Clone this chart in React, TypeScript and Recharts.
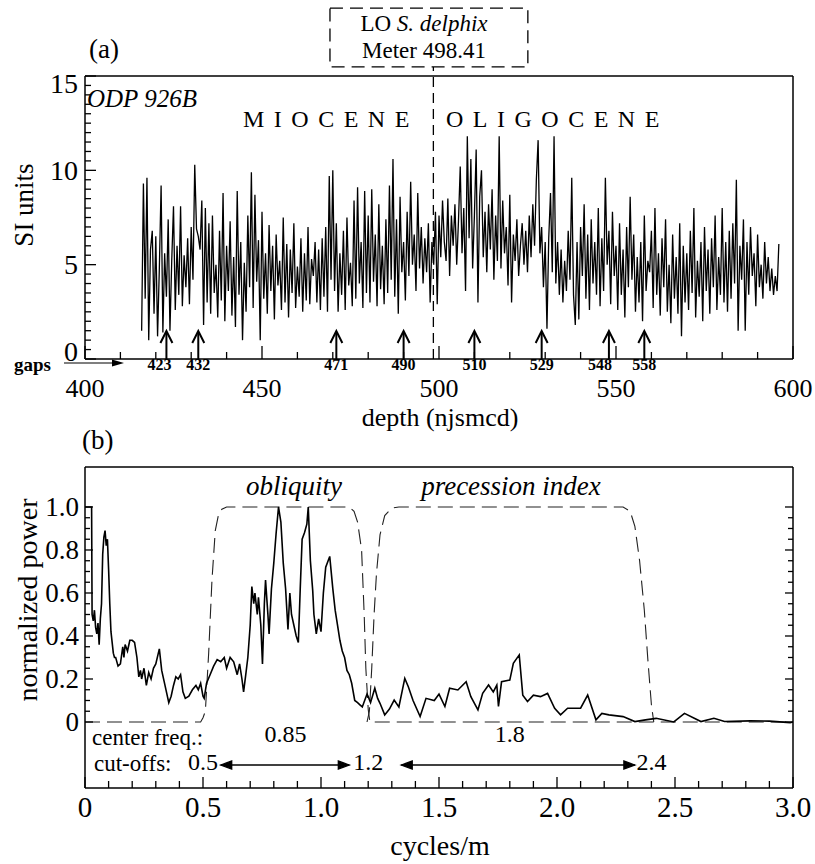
import React from "react";
import {
  ComposedChart,
  Line,
  Scatter,
  XAxis,
  YAxis,
  ReferenceLine,
  ReferenceArea,
} from "recharts";

const FONT = "'Liberation Serif', 'Times New Roman', serif";

// ---- panel (a): SI units against depth, one reading every 0.5 m from 416 m
const siStart = 416;
const siStep = 0.5;
const siValues = [
  1.5, 9.3, 3.2, 9.6, 1.0, 5.8, 6.8, 2.4, 6.5, 1.2, 4.8, 9.2, 1.4, 5.6, 3.3, 7.4, 1.5, 5.2, 8.1, 2.6,
  6.0, 3.4, 8.1, 2.8, 5.5, 3.8, 6.4, 2.9, 7.0, 4.2, 10.3, 6.9, 6.5, 5.8, 8.4, 1.8, 8.0, 3.0, 7.2, 2.4,
  7.6, 3.5, 5.0, 2.2, 6.8, 3.1, 8.8, 2.0, 6.0, 3.6, 7.3, 2.3, 5.4, 1.7, 8.9, 3.4, 6.2, 1.0, 5.1, 2.5,
  7.6, 3.8, 9.9, 2.7, 8.7, 4.1, 6.3, 1.0, 7.8, 3.2, 5.6, 2.4, 7.1, 3.6, 6.0, 2.1, 6.6, 3.9, 5.2, 2.6,
  7.5, 3.0, 6.1, 2.2, 5.8, 3.5, 7.2, 2.7, 4.9, 3.3, 6.4, 2.5, 5.6, 3.1, 7.0, 2.9, 5.3, 4.4, 6.2, 3.0,
  5.8, 2.6, 6.4, 3.3, 7.0, 2.5, 9.7, 4.2, 10.0, 3.6, 7.2, 2.5, 5.6, 3.4, 6.8, 2.6, 7.5, 3.9, 5.1, 2.8,
  8.4, 3.2, 9.1, 4.0, 6.2, 2.7, 8.9, 3.5, 7.6, 3.0, 9.0, 4.1, 6.6, 2.8, 8.2, 3.7, 6.0, 2.9, 7.4, 3.5,
  9.2, 4.2, 10.6, 3.3, 7.4, 2.4, 8.6, 4.6, 6.2, 3.1, 7.8, 4.4, 9.4, 5.0, 6.6, 3.6, 8.8, 4.8, 7.0, 4.0,
  6.4, 4.6, 7.2, 3.0, 6.2, 5.0, 7.8, 2.9, 7.6, 5.4, 8.4, 6.2, 5.2, 8.5, 4.4, 7.6, 6.0, 8.2, 5.0, 7.3,
  10.2, 5.6, 8.0, 3.6, 11.8, 6.4, 10.6, 4.8, 7.6, 11.1, 3.0, 8.6, 10.0, 5.4, 7.8, 4.6, 8.2, 5.8, 9.0, 4.2,
  7.6, 5.2, 11.8, 4.8, 8.4, 5.6, 7.0, 3.9, 8.7, 3.0, 6.6, 5.2, 7.4, 4.4, 6.0, 7.2, 5.0, 6.8, 4.6, 7.6,
  5.4, 8.2, 6.0, 9.5, 11.6, 5.6, 7.0, 3.8, 6.2, 1.6, 6.4, 8.8, 4.6, 11.8, 4.0, 6.2, 3.4, 5.8, 3.0, 5.2,
  3.6, 6.8, 4.2, 9.6, 3.4, 1.8, 6.2, 2.1, 7.0, 4.4, 8.2, 3.2, 6.6, 2.6, 7.4, 4.0, 6.2, 3.4, 8.0, 2.8,
  6.4, 3.6, 9.6, 5.0, 6.8, 2.9, 7.8, 4.4, 6.0, 2.6, 7.2, 3.4, 5.8, 2.2, 7.0, 3.8, 8.6, 4.2, 6.6, 2.5,
  5.4, 3.0, 6.2, 2.0, 7.6, 3.6, 5.2, 4.6, 6.8, 2.7, 8.0, 3.4, 5.6, 2.3, 6.4, 3.8, 7.4, 2.5, 5.0, 1.9,
  6.6, 3.2, 5.4, 2.4, 7.2, 1.2, 6.0, 3.0, 5.6, 2.6, 6.8, 3.5, 8.0, 2.2, 5.2, 3.3, 6.2, 2.0, 7.0, 3.6,
  5.8, 2.4, 6.4, 3.8, 7.6, 2.6, 5.4, 3.4, 8.0, 3.0, 6.2, 2.5, 6.8, 3.2, 7.2, 4.0, 9.5, 1.5, 6.0, 4.2,
  7.4, 1.5, 6.2, 3.4, 7.0, 4.4, 5.6, 2.8, 6.6, 3.8, 5.0, 3.2, 6.2, 4.0, 5.4, 3.6, 4.8, 3.4, 4.4, 3.6,
  6.1,
];
const gapDepths = [423, 432, 471, 490, 510, 529, 548, 558];
const boundaryDepth = 498.41;
const depthLabels = [400, 450, 500, 550, 600];
const siLabels = [0, 5, 10, 15];

// ---- panel (b): normalized power against cycles/m
const spectrum: [number, number][] = [
  [0, 1.0], [0.028, 1.0], [0.03, 0.5], [0.035, 0.47], [0.04, 0.52], [0.045, 0.44], [0.05, 0.41],
  [0.055, 0.46], [0.06, 0.36], [0.065, 0.48], [0.07, 0.55], [0.075, 0.78], [0.08, 0.86], [0.085, 0.89],
  [0.09, 0.82], [0.095, 0.85], [0.1, 0.71], [0.105, 0.55], [0.11, 0.42], [0.12, 0.32], [0.125, 0.3],
  [0.13, 0.3], [0.14, 0.26], [0.15, 0.27], [0.16, 0.35], [0.165, 0.3], [0.17, 0.36], [0.18, 0.33],
  [0.19, 0.38], [0.2, 0.38], [0.21, 0.37], [0.22, 0.3], [0.228, 0.21], [0.235, 0.24], [0.24, 0.2],
  [0.25, 0.25], [0.26, 0.17], [0.27, 0.23], [0.28, 0.2], [0.29, 0.25], [0.3, 0.27], [0.315, 0.34],
  [0.325, 0.24], [0.335, 0.19], [0.345, 0.14], [0.355, 0.09], [0.365, 0.12], [0.375, 0.17],
  [0.385, 0.21], [0.395, 0.2], [0.405, 0.22], [0.415, 0.14], [0.425, 0.11], [0.44, 0.12],
  [0.455, 0.15], [0.47, 0.17], [0.48, 0.15], [0.49, 0.18], [0.5, 0.12], [0.505, 0.11], [0.515, 0.18],
  [0.53, 0.22], [0.545, 0.26], [0.56, 0.29], [0.575, 0.28], [0.59, 0.3], [0.6, 0.25], [0.615, 0.3],
  [0.63, 0.28], [0.645, 0.22], [0.655, 0.27], [0.665, 0.2], [0.672, 0.14], [0.68, 0.21], [0.69, 0.3],
  [0.7, 0.45], [0.707, 0.63], [0.715, 0.55], [0.72, 0.6], [0.73, 0.5], [0.735, 0.58], [0.745, 0.45],
  [0.752, 0.27], [0.76, 0.55], [0.765, 0.66], [0.775, 0.5], [0.78, 0.41], [0.79, 0.62], [0.8, 0.74],
  [0.81, 0.88], [0.82, 1.0], [0.83, 0.93], [0.84, 0.74], [0.85, 0.62], [0.86, 0.43], [0.868, 0.6],
  [0.875, 0.5], [0.885, 0.45], [0.895, 0.4], [0.904, 0.37], [0.912, 0.62], [0.92, 0.85], [0.93, 0.88],
  [0.94, 0.92], [0.946, 1.0], [0.955, 0.75], [0.965, 0.61], [0.97, 0.5], [0.98, 0.41], [0.99, 0.48],
  [1.0, 0.42], [1.01, 0.6], [1.02, 0.72], [1.037, 0.77], [1.05, 0.62], [1.06, 0.52], [1.07, 0.45],
  [1.08, 0.38], [1.09, 0.33], [1.1, 0.3], [1.11, 0.24], [1.12, 0.22], [1.13, 0.18], [1.143, 0.1],
  [1.155, 0.09], [1.165, 0.08], [1.175, 0.07], [1.185, 0.1], [1.195, 0.13], [1.2, 0.118],
  [1.21, 0.09], [1.228, 0.157], [1.24, 0.11], [1.25, 0.087], [1.27, 0.033], [1.29, 0.06],
  [1.31, 0.102], [1.33, 0.07], [1.355, 0.203], [1.37, 0.164], [1.39, 0.1], [1.42, 0.025],
  [1.445, 0.11], [1.48, 0.1], [1.5, 0.13], [1.525, 0.072], [1.545, 0.157], [1.58, 0.149],
  [1.615, 0.187], [1.635, 0.118], [1.665, 0.056], [1.685, 0.133], [1.71, 0.172], [1.73, 0.14],
  [1.745, 0.172], [1.752, 0.072], [1.765, 0.187], [1.8, 0.195], [1.815, 0.273], [1.84, 0.312],
  [1.855, 0.125], [1.875, 0.095], [1.9, 0.125], [1.93, 0.118], [1.96, 0.133], [1.99, 0.064],
  [2.015, 0.033], [2.045, 0.064], [2.1, 0.064], [2.13, 0.125], [2.165, 0.01], [2.19, 0.04],
  [2.22, 0.033], [2.28, 0.025], [2.33, 0.002], [2.375, 0.01], [2.42, 0.017], [2.495, 0],
  [2.54, 0.04], [2.61, 0.002], [2.665, 0.017], [2.71, 0.002], [2.82, 0.005], [2.9, 0.004],
  [2.988, -0.003], [3.0, 0],
];
const obliquityFilter: [number, number][] = [
  [0, 0], [0.49, 0], [0.5, 0.02], [0.51, 0.05], [0.524, 0.32], [0.538, 0.66], [0.552, 0.89],
  [0.565, 0.96], [0.58, 0.99], [0.6, 1.0], [1.12, 1.0], [1.14, 0.98], [1.155, 0.93], [1.172, 0.8],
  [1.183, 0.5], [1.19, 0.25], [1.2, 0.06], [1.207, 0], [3.0, 0],
];
const precessionFilter: [number, number][] = [
  [1.195, 0], [1.205, 0.05], [1.215, 0.25], [1.225, 0.5], [1.235, 0.69], [1.25, 0.87],
  [1.27, 0.96], [1.3, 0.995], [1.33, 1.0], [2.28, 1.0], [2.31, 0.98], [2.33, 0.91], [2.35, 0.75],
  [2.37, 0.52], [2.385, 0.29], [2.4, 0.08], [2.41, 0],
];
const centerFreqs = [0.85, 1.8];
const cutoffs = [0.5, 1.2, 2.4];
const freqLabels = [0, 0.5, 1.0, 1.5, 2.0, 2.5, 3.0];
const powerLabels = [0, 0.2, 0.4, 0.6, 0.8, 1.0];

const steps = (a: number, b: number, s: number) =>
  Array.from({ length: Math.round((b - a) / s) + 1 }, (_, i) => +(a + i * s).toFixed(3));

const depthTicks = steps(400, 600, 10);
const siTicks = steps(0, 15, 0.5);
const freqTicks = steps(0, 3, 0.1);
const powerTicks = steps(0, 1, 0.05);

const siData = siValues.map((v, i) => ({ x: siStart + i * siStep, si: v }));
const gapData = gapDepths.map((d) => ({ x: d, y: 0 }));
const specData = spectrum.map(([f, p]) => ({ x: f, p }));
const oblData = obliquityFilter.map(([f, g]) => ({ x: f, g }));
const precData = precessionFilter.map(([f, g]) => ({ x: f, g }));

type Side = "bottom" | "top" | "left" | "right";

const has = (list: number[], v: number) => list.some((m) => Math.abs(m - v) < 1e-6);

function tickRenderer(
  side: Side,
  major: number[],
  majorLen: number,
  minorLen: number,
  showLabels: boolean,
  fmt: (v: number) => string,
  fontSize: number,
  gap: number,
  nudge: (v: number) => number = () => 0
) {
  return (props: any) => {
    const { x, y, payload } = props;
    const v = payload.value;
    const isMajor = has(major, v);
    const len = isMajor ? majorLen : minorLen;
    let line;
    if (side === "bottom") line = <line x1={x} y1={y} x2={x} y2={y - len} />;
    else if (side === "top") line = <line x1={x} y1={y} x2={x} y2={y + len} />;
    else if (side === "left") line = <line x1={x} y1={y} x2={x + len} y2={y} />;
    else line = <line x1={x} y1={y} x2={x - len} y2={y} />;
    let text = null;
    if (showLabels && isMajor) {
      if (side === "bottom")
        text = (
          <text x={x} y={y + gap} textAnchor="middle" fontSize={fontSize} fontFamily={FONT} fill="#000" stroke="none">
            {fmt(v)}
          </text>
        );
      else if (side === "left")
        text = (
          <text
            x={x - gap}
            y={y + nudge(v)}
            textAnchor="end"
            dominantBaseline="central"
            fontSize={fontSize}
            fontFamily={FONT}
            fill="#000"
            stroke="none"
          >
            {fmt(v)}
          </text>
        );
    }
    return (
      <g stroke="#000" strokeWidth={1.3}>
        {line}
        {text}
      </g>
    );
  };
}

const fmtInt = (v: number) => String(v);
const fmtDec = (v: number) => (v === 0 ? "0" : v.toFixed(1));
const axisLine = { stroke: "#000", strokeWidth: 1.5 };

// a couple of gap labels sit a little left of their arrows in the original
const gapLabelShift: Record<number, number> = { 423: -7, 548: -9 };

const GapArrow = (p: any) => {
  const { cx, cy, payload } = p;
  return (
    <g>
      <line x1={cx} y1={cy} x2={cx} y2={cy - 27} stroke="#000" strokeWidth={2} />
      <polyline
        points={`${cx - 6},${cy - 16} ${cx},${cy - 28} ${cx + 6},${cy - 16}`}
        fill="none"
        stroke="#000"
        strokeWidth={2}
      />
      <text
        x={cx + (gapLabelShift[payload.x] || 0)}
        y={cy + 11}
        textAnchor="middle"
        fontWeight="bold"
        fontSize={16}
        fontFamily={FONT}
      >
        {payload.x}
      </text>
    </g>
  );
};

const FreqText = (p: any) => (
  <text x={p.cx} y={p.cy} textAnchor="middle" fontSize={24} fontFamily={FONT} fill="#000">
    {String(p.payload.x)}
  </text>
);

const DoubleArrow = (p: any) => {
  const { x1, y1, x2 } = p;
  const y = y1;
  return (
    <g stroke="#000" strokeWidth={1.3}>
      <line x1={x1} y1={y} x2={x2} y2={y} />
      <path d={`M${x1},${y} L${x1 + 11},${y - 4} L${x1 + 11},${y + 4} Z`} fill="#000" />
      <path d={`M${x2},${y} L${x2 - 11},${y - 4} L${x2 - 11},${y + 4} Z`} fill="#000" />
    </g>
  );
};

const PanelA = () => (
  <ComposedChart width={815} height={430} margin={{ top: 75, right: 21, bottom: 70, left: 84 }}>
    <XAxis
      type="number"
      dataKey="x"
      domain={[400, 600]}
      ticks={depthTicks}
      interval={0}
      height={1}
      tickSize={0}
      tickMargin={0}
      axisLine={axisLine}
      tickLine={false}
      tick={tickRenderer("bottom", depthLabels, 13, 7, true, fmtInt, 26, 38)}
    />
    <XAxis
      xAxisId="top"
      orientation="top"
      type="number"
      dataKey="x"
      domain={[400, 600]}
      ticks={depthTicks}
      interval={0}
      height={1}
      tickSize={0}
      tickMargin={0}
      axisLine={axisLine}
      tickLine={false}
      tick={tickRenderer("top", depthLabels, 13, 7, false, fmtInt, 26, 0)}
    />
    <YAxis
      type="number"
      domain={[0, 15]}
      ticks={siTicks}
      interval={0}
      width={1}
      tickSize={0}
      tickMargin={0}
      axisLine={axisLine}
      tickLine={false}
      tick={tickRenderer("left", siLabels, 11, 6, true, fmtInt, 28, 7, (v) =>
        v === 0 ? -8 : v === 15 ? 7 : 0
      )}
    />
    <YAxis
      yAxisId="right"
      orientation="right"
      type="number"
      domain={[0, 15]}
      ticks={siTicks}
      interval={0}
      width={1}
      tickSize={0}
      tickMargin={0}
      axisLine={axisLine}
      tickLine={false}
      tick={tickRenderer("right", siLabels, 13, 7, false, fmtInt, 28, 0)}
    />
    <ReferenceArea
      x1={469.2}
      x2={525.1}
      y1={15.48}
      y2={18.6}
      ifOverflow="visible"
      fill="none"
      stroke="#000"
      strokeWidth={1.3}
      strokeDasharray="13 7"
    />
    <ReferenceLine
      segment={[
        { x: boundaryDepth, y: 0 },
        { x: boundaryDepth, y: 15.48 },
      ]}
      ifOverflow="visible"
      stroke="#000"
      strokeWidth={1.3}
      strokeDasharray="10 6"
    />
    <Line
      data={siData}
      dataKey="si"
      type="linear"
      stroke="#000"
      strokeWidth={1.3}
      dot={false}
      isAnimationActive={false}
    />
    <Scatter data={gapData} dataKey="y" shape={GapArrow} isAnimationActive={false} />
  </ComposedChart>
);

const PanelB = () => (
  <ComposedChart width={815} height={434} margin={{ top: 36, right: 21, bottom: 75, left: 84 }}>
    <XAxis
      type="number"
      dataKey="x"
      domain={[0, 3]}
      ticks={freqTicks}
      interval={0}
      height={1}
      tickSize={0}
      tickMargin={0}
      allowDataOverflow
      axisLine={axisLine}
      tickLine={false}
      tick={tickRenderer("bottom", freqLabels, 11, 7, true, fmtDec, 29, 29)}
    />
    <XAxis
      xAxisId="top"
      orientation="top"
      type="number"
      dataKey="x"
      domain={[0, 3]}
      height={1}
      allowDataOverflow
      axisLine={axisLine}
      tickLine={false}
      tick={false}
    />
    <YAxis
      type="number"
      domain={[-0.307, 1.186]}
      ticks={powerTicks}
      interval={0}
      width={1}
      tickSize={0}
      tickMargin={0}
      allowDataOverflow
      axisLine={axisLine}
      tickLine={false}
      tick={tickRenderer("left", powerLabels, 8, 5, true, fmtDec, 27, 6)}
    />
    <YAxis
      yAxisId="right"
      orientation="right"
      type="number"
      domain={[-0.307, 1.186]}
      ticks={powerTicks}
      interval={0}
      width={1}
      tickSize={0}
      tickMargin={0}
      allowDataOverflow
      axisLine={axisLine}
      tickLine={false}
      tick={tickRenderer("right", powerLabels, 8, 5, false, fmtDec, 27, 0)}
    />
    <Line
      data={oblData}
      dataKey="g"
      type="linear"
      stroke="#222"
      strokeWidth={1.1}
      strokeDasharray="15 7"
      dot={false}
      isAnimationActive={false}
    />
    <Line
      data={precData}
      dataKey="g"
      type="linear"
      stroke="#222"
      strokeWidth={1.1}
      strokeDasharray="15 7"
      dot={false}
      isAnimationActive={false}
    />
    <Line
      data={specData}
      dataKey="p"
      type="linear"
      stroke="#000"
      strokeWidth={1.6}
      dot={false}
      isAnimationActive={false}
    />
    <ReferenceLine
      segment={[
        { x: 0.575, y: -0.2 },
        { x: 1.12, y: -0.2 },
      ]}
      ifOverflow="visible"
      shape={DoubleArrow}
    />
    <ReferenceLine
      segment={[
        { x: 1.34, y: -0.2 },
        { x: 2.33, y: -0.2 },
      ]}
      ifOverflow="visible"
      shape={DoubleArrow}
    />
    <Scatter
      data={centerFreqs.map((f) => ({ x: f, y: -0.093 }))}
      dataKey="y"
      shape={FreqText}
      isAnimationActive={false}
    />
    <Scatter
      data={cutoffs.map((f) => ({ x: f, y: -0.222 }))}
      dataKey="y"
      shape={FreqText}
      isAnimationActive={false}
    />
  </ComposedChart>
);

const Overlay = () => (
  <svg
    width={815}
    height={864}
    style={{ position: "absolute", left: 0, top: 0, pointerEvents: "none" }}
    fontFamily={FONT}
  >
    <text x={89} y={58} fontSize={27}>(a)</text>
    <text x={424} y={31} fontSize={23} textAnchor="middle">
      LO <tspan fontStyle="italic">S. delphix</tspan>
    </text>
    <text x={424} y={58} fontSize={23} textAnchor="middle">Meter 498.41</text>
    <text x={87} y={107} fontSize={25} fontStyle="italic">ODP 926B</text>
    <text x={243} y={127} fontSize={24} letterSpacing={9.5}>MIOCENE</text>
    <text x={446} y={127} fontSize={24} letterSpacing={9.5}>OLIGOCENE</text>
    <text x={33} y={205} fontSize={27} textAnchor="middle" transform="rotate(-90 33 205)">
      SI units
    </text>
    <text x={14} y={371} fontSize={19} fontWeight="bold">gaps</text>
    <line x1={64} y1={363} x2={114} y2={363} stroke="#000" strokeWidth={1.2} />
    <path d="M112,359.5 L124,363 L112,366.5 Z" fill="#000" />
    <text x={440} y={426} fontSize={26} textAnchor="middle">depth (njsmcd)</text>

    <text x={82} y={449} fontSize={27}>(b)</text>
    <text x={294} y={495} fontSize={27} fontStyle="italic" textAnchor="middle">obliquity</text>
    <text x={511} y={495} fontSize={27} fontStyle="italic" textAnchor="middle">precession index</text>
    <text x={37} y={600} fontSize={28} textAnchor="middle" transform="rotate(-90 37 600)">
      normalized power
    </text>
    <text x={92} y={745} fontSize={23}>center freq.:</text>
    <text x={94} y={771} fontSize={23}>cut-offs:</text>
    <text x={440} y={855} fontSize={28} textAnchor="middle">cycles/m</text>
  </svg>
);

export default function App() {
  return (
    <div
      style={{
        position: "absolute",
        left: 0,
        top: 0,
        width: 815,
        height: 864,
        background: "#fff",
        fontFamily: FONT,
      }}
    >
      <div style={{ position: "absolute", left: 0, top: 0 }}>
        <PanelA />
      </div>
      <div style={{ position: "absolute", left: 0, top: 430 }}>
        <PanelB />
      </div>
      <Overlay />
    </div>
  );
}
